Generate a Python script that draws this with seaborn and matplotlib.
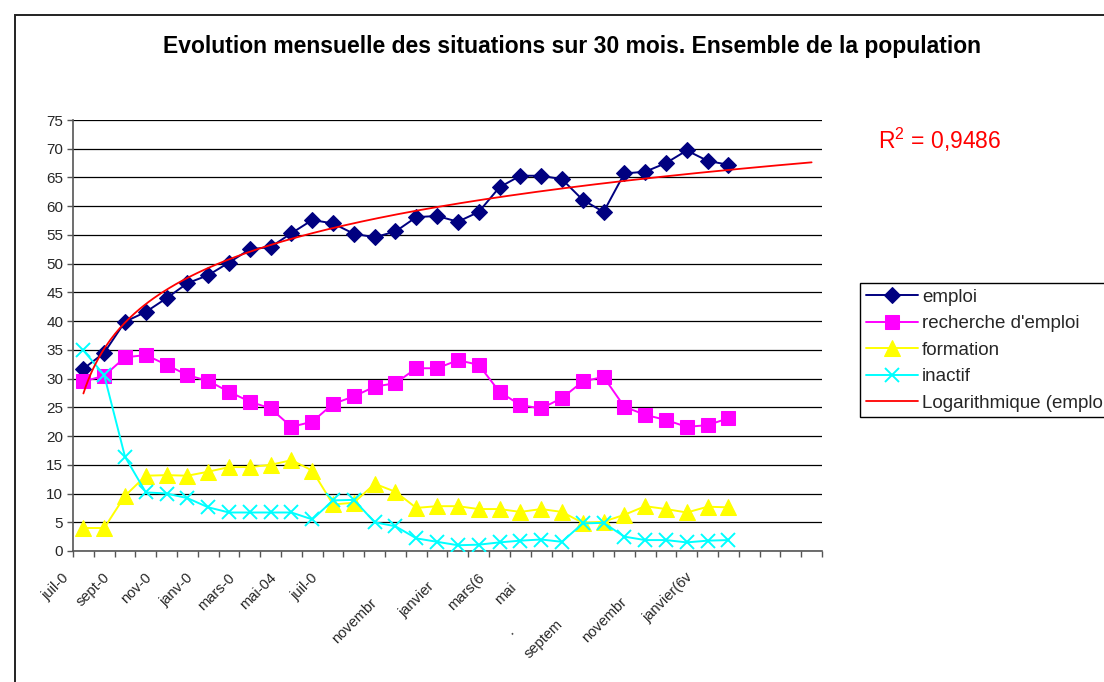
import numpy as np
import pandas as pd
import matplotlib
matplotlib.use("Agg")
import matplotlib.pyplot as plt
import matplotlib.transforms as mtransforms
from matplotlib.patches import Rectangle
import seaborn as sns

# ---------------- data ----------------
emploi = [31.7, 34.5, 39.9, 41.6, 44.0, 46.6, 48.0, 50.2, 52.5, 52.9, 55.3, 57.6,
          57.0, 55.2, 54.6, 55.6, 58.1, 58.3, 57.3, 59.0, 63.3, 65.3, 65.3, 64.7,
          61.1, 59.0, 65.7, 66.0, 67.5, 69.7, 67.9, 67.2]
recherche = [29.5, 30.5, 33.7, 34.1, 32.4, 30.6, 29.6, 27.7, 26.0, 24.8, 21.6, 22.5,
             25.6, 26.9, 28.6, 29.2, 31.8, 31.8, 33.2, 32.4, 27.7, 25.4, 24.8, 26.6,
             29.5, 30.3, 25.1, 23.7, 22.8, 21.6, 21.9, 23.1]
formation = [4.0, 4.0, 9.6, 13.1, 13.2, 13.1, 13.8, 14.6, 14.6, 15.0, 15.8, 14.0,
             8.1, 8.4, 11.7, 10.3, 7.5, 7.8, 7.8, 7.3, 7.3, 6.8, 7.3, 6.8,
             4.9, 5.1, 6.3, 7.8, 7.3, 6.7, 7.7, 7.6]
inactif = [34.9, 30.6, 16.4, 10.2, 10.0, 9.2, 7.6, 6.7, 6.7, 6.7, 6.7, 5.5,
           8.8, 8.9, 5.0, 4.3, 2.2, 1.6, 1.0, 1.1, 1.5, 1.8, 2.0, 1.6,
           4.8, 4.9, 2.5, 1.9, 1.9, 1.5, 1.8, 1.9]
n_categories = 36
tick_labels = ["juil-0", "sept-0", "nov-0", "janv-0", "mars-0", "mai-04", "juil-0", "",
               "novembr", "janvier", "mars(6", "mai", ".", "septem", "novembr", "janvier(6v"]
tick_label_step = 2
series_names = ["emploi", "recherche d'emploi", "formation", "inactif"]
trend_name = "Logarithmique (emploi)"
r2_text = "R$^{2}$ = 0,9486"
title = "Evolution mensuelle des situations sur 30 mois. Ensemble de la population"

# ---------------- style ----------------
sns.set_theme(style="white")
plt.rcParams["font.family"] = ["Liberation Sans", "DejaVu Sans"]
plt.rcParams["mathtext.fontset"] = "custom"
plt.rcParams["mathtext.rm"] = "Liberation Sans"
plt.rcParams["mathtext.it"] = "Liberation Sans"

W, H = 1104, 682
fig = plt.figure(figsize=(W / 100, H / 100), dpi=100)
fig.patch.set_facecolor("white")

# outer chart-area border (Excel style), running off right/bottom edges
fig.patches.append(Rectangle((15 / W, -0.2), 1.3, 1.2 - 15 / H, transform=fig.transFigure,
                             fill=False, edgecolor="#222222", linewidth=1.4, zorder=0))

ax = fig.add_axes([73 / W, 1 - 551 / H, (822 - 73) / W, (551 - 120) / H])
ax.set_facecolor("white")

x = np.arange(len(emploi))
df = pd.DataFrame({"x": x, "emploi": emploi, "recherche": recherche,
                   "formation": formation, "inactif": inactif})

styles = [
    ("emploi", "#000080", "D", 8.5, {}),
    ("recherche", "#FF00FF", "s", 9.5, {}),
    ("formation", "#FFFF00", "^", 11, {}),
    ("inactif", "#00FFFF", "x", 10, {"markeredgewidth": 1.4}),
]
for (col, color, mk, ms, extra), name in zip(styles, series_names):
    sns.lineplot(data=df, x="x", y=col, ax=ax, color=color, marker=mk, markersize=ms,
                 markeredgecolor=color, markerfacecolor=color, linewidth=1.4,
                 label=name, zorder=3, **extra)

# logarithmic trend on emploi (Excel: y = a ln(x) + b, x = 1..n)
xi = np.arange(1, len(emploi) + 1)
a, b = np.polyfit(np.log(xi), np.array(emploi), 1)
xt = np.linspace(1, n_categories, 300)
trend = pd.DataFrame({"x": xt - 1, "y": a * np.log(xt) + b})
sns.lineplot(data=trend, x="x", y="y", ax=ax, color="#FF0000", linewidth=1.3,
             label=trend_name, zorder=4)

if ax.get_legend() is not None:
    ax.get_legend().remove()

# axes
ax.set_xlim(-0.5, n_categories - 0.5)
ax.set_ylim(0, 75)
ax.set_xlabel("")
ax.set_ylabel("")
ax.set_yticks(np.arange(0, 76, 5))
ax.grid(axis="y", color="black", linewidth=0.9)
ax.grid(axis="x", visible=False)
ax.set_axisbelow(True)
for s in ["top", "right"]:
    ax.spines[s].set_visible(False)
ax.spines["left"].set_color("#555555")
ax.spines["bottom"].set_color("#555555")
ax.spines["left"].set_linewidth(1.2)
ax.spines["bottom"].set_linewidth(1.2)
ax.tick_params(axis="y", which="major", direction="out", length=4, width=1,
               color="#555555", labelsize=11, pad=3, left=True)

major_pos = np.arange(0, len(tick_labels) * tick_label_step, tick_label_step)
ax.set_xticks(major_pos)
ax.set_xticklabels(tick_labels, rotation=45, ha="right", va="top",
                   rotation_mode="anchor", fontsize=10.5)
ax.set_xticks(np.arange(-0.5, n_categories, 1), minor=True)
ax.tick_params(axis="x", which="major", length=0, pad=14)
ax.tick_params(axis="x", which="minor", direction="out", length=4, width=1,
               color="#555555", bottom=True)

# some labels sit lower (Excel overlap placement)
extra_drop = [0, 0, 0, 0, 0, 0, 0, 0, 25, 9, 0, 10, 54, 47, 24, 0]
for lab, d in zip(ax.get_xticklabels(), extra_drop):
    off = mtransforms.ScaledTranslation((-22 - d) / 100, -d / 100, fig.dpi_scale_trans)
    lab.set_transform(lab.get_transform() + off)

# title and R^2
fig.text(572 / W, 1 - 47 / H, title, ha="center", va="center", fontsize=16.5,
         fontweight="bold", color="black")
fig.text(878 / W, 1 - 140 / H, r2_text, ha="left", va="center", fontsize=16.5, color="#FF0000")

# legend
handles, labels = ax.get_legend_handles_labels()
leg = fig.legend(handles, labels, loc="upper left",
                 bbox_to_anchor=(860 / W, 1 - 283 / H), bbox_transform=fig.transFigure,
                 frameon=True, fancybox=False, edgecolor="black", framealpha=1,
                 fontsize=13.5, handlelength=2.8, handletextpad=0.2,
                 labelspacing=0.5, borderpad=0.3, borderaxespad=0, numpoints=1)
leg.get_frame().set_linewidth(1.0)

fig.savefig("out.png", dpi=100)
